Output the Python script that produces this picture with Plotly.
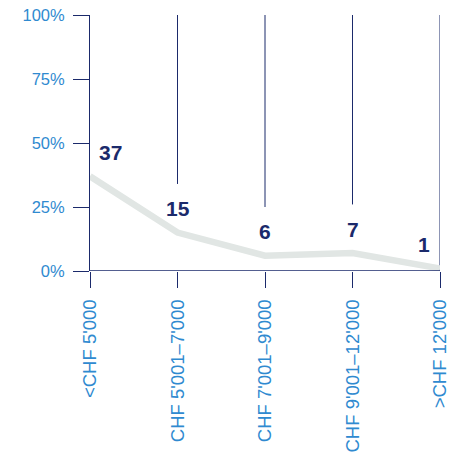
import plotly.graph_objects as go

categories = ["<CHF 5'000", "CHF 5'001–7'000", "CHF 7'001–9'000", "CHF 9'001–12'000", ">CHF 12'000"]
values = [37, 15, 6, 7, 1]
y_ticks = [0, 25, 50, 75, 100]
y_tick_labels = ["0%", "25%", "50%", "75%", "100%"]

NAVY = "#1b2a6b"
BLUE = "#2f8ad0"
LINE = "#e1e6e4"
FONT = "Liberation Sans, Arial, sans-serif"
TICKLEN = 16
Y_MAX = 100

xs = list(range(len(categories)))
n = len(categories)
fig = go.Figure()
fig.add_trace(go.Scatter(x=xs, y=values, mode="lines",
                         line=dict(color=LINE, width=6.5), cliponaxis=True,
                         hoverinfo="skip", showlegend=False))

# broken vertical gridlines (stop above the value labels)
for i, v in enumerate(values):
    if i == 0:
        continue
    y0 = 0 if i == n - 1 else v + 19
    fig.add_shape(type="line", xref="x", yref="y", x0=i, x1=i, y0=y0, y1=Y_MAX,
                  line=dict(color=NAVY, width=1), layer="below")

# value labels
for i, v in enumerate(values):
    xshift = 20 if i == 0 else (-16 if i == n - 1 else 0)
    fig.add_annotation(x=i, y=v, text=f"<b>{v}</b>", showarrow=False,
                       xanchor="center", yanchor="middle", xshift=xshift, yshift=24,
                       font=dict(family=FONT, size=21, color=NAVY))

fig.update_layout(
    width=452, height=462,
    margin=dict(l=90, r=12, t=15, b=191, autoexpand=False),
    paper_bgcolor="white", plot_bgcolor="white",
    font=dict(family=FONT),
    xaxis=dict(range=[0, n - 1], tickmode="array", tickvals=xs, ticktext=categories,
               tickangle=-90, ticks="outside", ticklen=TICKLEN, tickcolor=NAVY, tickwidth=1.2,
               ticklabelstandoff=4,
               showgrid=False, zeroline=False, showline=False, automargin=False,
               tickfont=dict(family=FONT, size=18.5, color=BLUE), fixedrange=True),
    yaxis=dict(range=[0, Y_MAX], tickmode="array", tickvals=y_ticks, ticktext=y_tick_labels,
               ticks="outside", ticklen=TICKLEN, tickcolor=NAVY, tickwidth=1.2, automargin=False,
               ticklabelstandoff=5,
               showgrid=False, zeroline=False, showline=True, linecolor=NAVY, linewidth=1,
               tickfont=dict(family=FONT, size=16.5, color=BLUE), fixedrange=True),
)
# baseline at 0
fig.add_shape(type="line", xref="paper", yref="y", x0=0, x1=1, y0=0, y1=0,
              line=dict(color=NAVY, width=1.5), layer="above")
fig.write_html("out.html", config={"displayModeBar": False},
               post_script="document.body.style.margin='0';")
